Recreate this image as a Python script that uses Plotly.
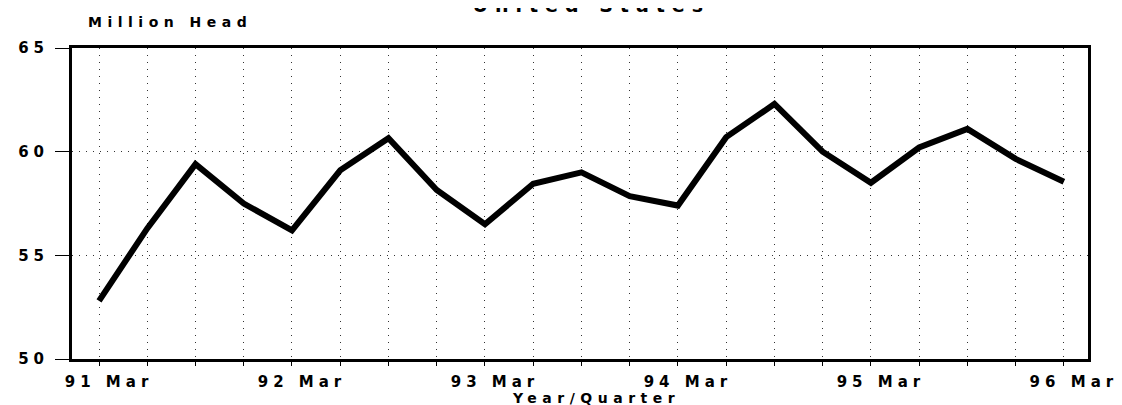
import plotly.graph_objects as go

quarters = ["91 Mar", "91 Jun", "91 Sep", "91 Dec",
            "92 Mar", "92 Jun", "92 Sep", "92 Dec",
            "93 Mar", "93 Jun", "93 Sep", "93 Dec",
            "94 Mar", "94 Jun", "94 Sep", "94 Dec",
            "95 Mar", "95 Jun", "95 Sep", "95 Dec",
            "96 Mar"]
million_head = [52.8, 56.3, 59.4, 57.5,
                56.2, 59.1, 60.65, 58.15,
                56.5, 58.45, 59.0, 57.85,
                57.4, 60.7, 62.3, 60.0,
                58.5, 60.2, 61.1, 59.65,
                58.55]
labeled_ticks = ["91 Mar", "92 Mar", "93 Mar", "94 Mar", "95 Mar", "96 Mar"]
y_ticks = [50, 55, 60, 65]

idx = list(range(len(quarters)))
ticktext = [q if q in labeled_ticks else "" for q in quarters]

FONT = "DejaVu Sans"

fig = go.Figure()
fig.add_trace(go.Scatter(
    x=idx, y=million_head, mode="lines",
    line=dict(color="black", width=6),
    hoverinfo="skip", showlegend=False,
))

fig.update_layout(
    width=1122, height=405,
    margin=dict(l=64, r=42, t=40, b=54),
    paper_bgcolor="white", plot_bgcolor="white",
    font=dict(family=FONT, color="black"),
    xaxis=dict(
        range=[-0.56, 20.5],
        tickmode="array", tickvals=idx, ticktext=ticktext,
        ticks="outside", ticklen=4, tickwidth=1, tickcolor="black",
        ticklabelstandoff=3, ticklabelshift=10,
        tickfont=dict(family=FONT, size=15, weight="bold", color="black"),
        showline=True, linecolor="black", linewidth=3, mirror=True,
        showgrid=True, gridcolor="#333", gridwidth=1, griddash="1px,6px",
        zeroline=False,
    ),
    yaxis=dict(
        range=[50, 65],
        tickmode="array", tickvals=y_ticks,
        ticks="outside", ticklen=14, tickwidth=1, tickcolor="black",
        ticklabelstandoff=3,
        tickfont=dict(family=FONT, size=15, weight="bold", color="black"),
        showline=True, linecolor="black", linewidth=3, mirror=True,
        showgrid=True, gridcolor="#333", gridwidth=1, griddash="1px,6px",
        zeroline=False,
    ),
    annotations=[
        dict(text="United States", xref="paper", yref="paper",
             x=0.511, y=1.098, xanchor="center", yanchor="bottom",
             showarrow=False, font=dict(family=FONT, size=19, weight="bold")),
        dict(text="Million Head", xref="paper", yref="paper",
             x=0.0965, y=1.0836, xanchor="center", yanchor="middle",
             showarrow=False, font=dict(family=FONT, size=14, weight="bold")),
        dict(text="Year/Quarter", xref="paper", yref="paper",
             x=0.516, y=-0.125, xanchor="center", yanchor="middle",
             showarrow=False, font=dict(family=FONT, size=14, weight="bold")),
    ],
)

# The reference uses a very wide (extended) typeface; emulate it with letter spacing.
post = """
var s = document.createElement('style');
s.textContent = '.main-svg text { letter-spacing: 5.5px; }'
  + ' .main-svg .ytick text { letter-spacing: 5px; }'
  + ' .main-svg .xtick text { letter-spacing: 5px; }'
  + ' .main-svg .annotation[data-index="0"] text { letter-spacing: 7px; }';
document.head.appendChild(s);
"""
fig.write_html("out.html", post_script=post)
